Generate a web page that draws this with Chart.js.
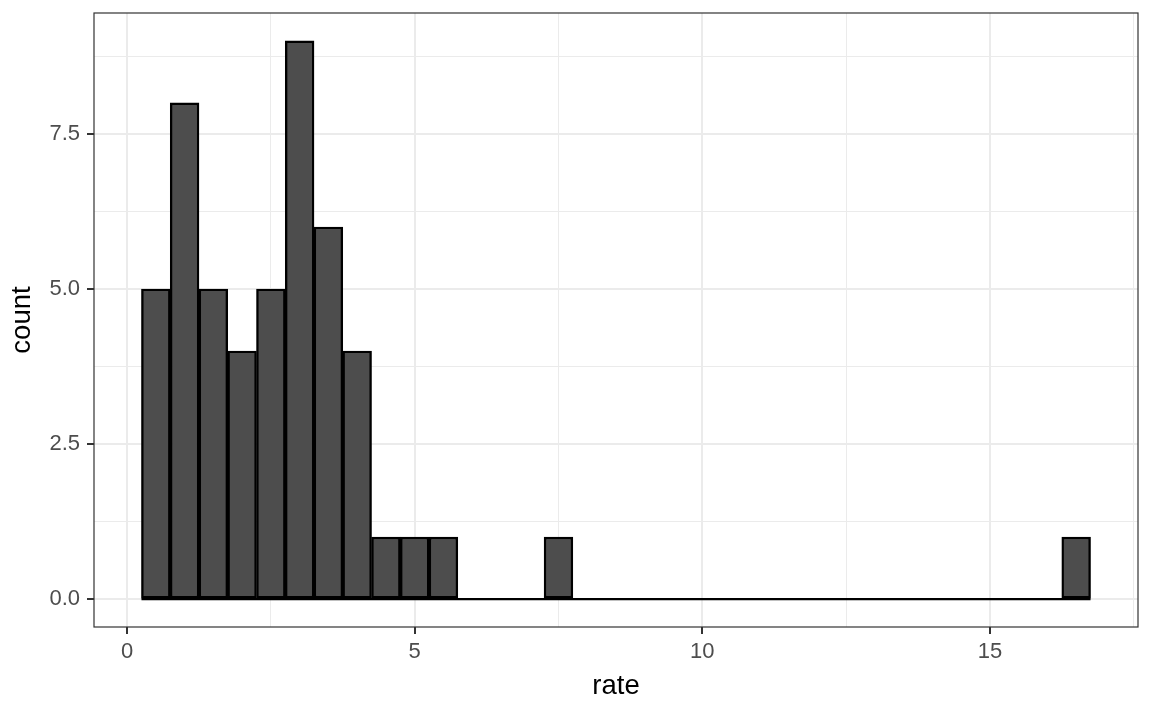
<!DOCTYPE html>
<html>
<head>
<meta charset="utf-8">
<script src="https://cdn.jsdelivr.net/npm/chart.js@4/dist/chart.umd.min.js"></script>
<style>
  html, body { margin: 0; padding: 0; background: #ffffff; }
  #wrap { width: 1152px; height: 711px; position: relative; }
</style>
</head>
<body>
<div id="wrap"><canvas id="c"></canvas></div>
<script>
// ---- data ----
const binWidth = 0.5;
const binCenters = [0.5, 1, 1.5, 2, 2.5, 3, 3.5, 4, 4.5, 5, 5.5, 6, 6.5, 7, 7.5, 8, 8.5, 9, 9.5, 10,
                    10.5, 11, 11.5, 12, 12.5, 13, 13.5, 14, 14.5, 15, 15.5, 16, 16.5];
const counts = [5, 8, 5, 4, 5, 9, 6, 4, 1, 1, 1, 0, 0, 0, 1, 0, 0, 0, 0, 0,
                0, 0, 0, 0, 0, 0, 0, 0, 0, 0, 0, 0, 1];
const xMajorTicks = [0, 5, 10, 15];
const xTickLabels = ['0', '5', '10', '15'];
const xMinorTicks = [2.5, 7.5, 12.5, 17.5];
const yMajorTicks = [0, 2.5, 5, 7.5];
const yTickLabels = ['0.0', '2.5', '5.0', '7.5'];
const yMinorTicks = [1.25, 3.75, 6.25, 8.75];
const xTitle = 'rate';
const yTitle = 'count';

// ---- derived ----
const barData = binCenters.map((c, i) => ({ x: c, y: counts[i] }));
const firstEdge = binCenters[0] - binWidth / 2;
const lastEdge = binCenters[binCenters.length - 1] + binWidth / 2;
const baseLine = [{ x: firstEdge, y: 0 }, { x: lastEdge, y: 0 }];
const xSpan = lastEdge - firstEdge;
const yMaxVal = Math.max(...counts);

const FONT = "'Liberation Sans', Arial, Helvetica, sans-serif";

function tickList(major, minor) {
  return major.map(v => ({ value: v, major: true }))
    .concat(minor.map(v => ({ value: v, major: false })))
    .sort((a, b) => a.value - b.value);
}
function labelFor(major, labels, v) {
  const i = major.indexOf(v);
  return i >= 0 ? labels[i] : '';
}

const panelBorder = {
  id: 'panelBorder',
  afterDatasetsDraw(chart) {
    const { ctx, chartArea: a } = chart;
    ctx.save();
    ctx.strokeStyle = '#333333';
    ctx.lineWidth = 1.2;
    ctx.strokeRect(a.left, a.top, a.right - a.left, a.bottom - a.top);
    ctx.restore();
  }
};

new Chart(document.getElementById('c'), {
  type: 'bar',
  data: {
    datasets: [
      {
        type: 'line',
        data: baseLine,
        borderColor: '#000000',
        borderWidth: 2.4,
        pointRadius: 0,
        fill: false,
        order: 2
      },
      {
        type: 'bar',
        data: barData,
        backgroundColor: '#4D4D4D',
        borderColor: '#000000',
        borderWidth: 2.4,
        borderSkipped: false,
        barPercentage: 1,
        categoryPercentage: 1,
        order: 1
      }
    ]
  },
  options: {
    responsive: true,
    maintainAspectRatio: false,
    animation: false,
    layout: { padding: { top: 13, right: 14, left: 0, bottom: 0 } },
    plugins: { legend: { display: false }, tooltip: { enabled: false } },
    scales: {
      x: {
        type: 'linear',
        offset: false,
        min: firstEdge - xSpan * 0.05,
        max: lastEdge + xSpan * 0.05,
        afterBuildTicks: s => { s.ticks = tickList(xMajorTicks, xMinorTicks); },
        afterFit: s => { s.height = 84; s.paddingLeft = 0; s.paddingRight = 0; },
        border: { display: false },
        grid: {
          offset: false,
          color: '#EBEBEB',
          lineWidth: c => (c.tick && c.tick.major ? 2 : 1),
          tickColor: c => (c.tick && c.tick.major ? '#333333' : 'rgba(0,0,0,0)'),
          tickLength: 7,
          tickWidth: 2,
          drawTicks: true
        },
        ticks: {
          autoSkip: false,
          maxRotation: 0,
          padding: 5,
          color: '#4D4D4D',
          font: { family: FONT, size: 22 },
          callback: v => labelFor(xMajorTicks, xTickLabels, v)
        },
        title: {
          display: true,
          text: xTitle,
          color: '#000000',
          font: { family: FONT, size: 27.5 },
          padding: { top: 0, bottom: 8 }
        }
      },
      y: {
        type: 'linear',
        min: 0 - yMaxVal * 0.05,
        max: yMaxVal * 1.05,
        afterBuildTicks: s => { s.ticks = tickList(yMajorTicks, yMinorTicks); },
        afterFit: s => { s.width = 94; s.paddingTop = 0; s.paddingBottom = 0; },
        border: { display: false },
        grid: {
          color: '#EBEBEB',
          lineWidth: c => (c.tick && c.tick.major ? 2 : 1),
          tickColor: c => (c.tick && c.tick.major ? '#333333' : 'rgba(0,0,0,0)'),
          tickLength: 7,
          tickWidth: 2,
          drawTicks: true
        },
        ticks: {
          autoSkip: false,
          padding: 7,
          color: '#4D4D4D',
          font: { family: FONT, size: 22 },
          callback: v => labelFor(yMajorTicks, yTickLabels, v)
        },
        title: {
          display: true,
          text: yTitle,
          color: '#000000',
          font: { family: FONT, size: 27.5 },
          padding: { top: 6, bottom: 0 }
        }
      }
    }
  },
  plugins: [panelBorder]
});
</script>
</body>
</html>
